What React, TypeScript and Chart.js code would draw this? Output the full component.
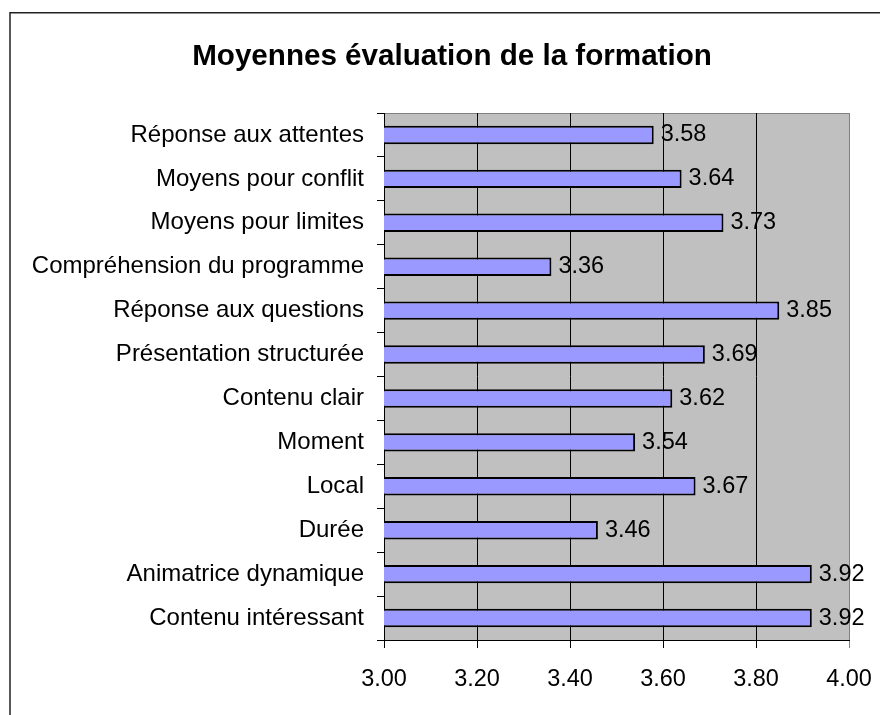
import React, { useEffect, useRef } from "react";
import { Chart, registerables } from "chart.js";

Chart.register(...registerables);

const TITLE = "Moyennes évaluation de la formation";
const categories = [
  "Réponse aux attentes",
  "Moyens pour conflit",
  "Moyens pour limites",
  "Compréhension du programme",
  "Réponse aux questions",
  "Présentation structurée",
  "Contenu clair",
  "Moment",
  "Local",
  "Durée",
  "Animatrice dynamique",
  "Contenu intéressant",
];
const values = [3.58, 3.64, 3.73, 3.36, 3.85, 3.69, 3.62, 3.54, 3.67, 3.46, 3.92, 3.92];
const xMin = 3.0;
const xMax = 4.0;
const xStep = 0.2;

const FONT = '"Liberation Sans", Arial, sans-serif';

export default function App() {
  const ref = useRef<HTMLCanvasElement | null>(null);

  useEffect(() => {
    const canvas = ref.current;
    if (!canvas) return;

    const decor = {
      id: "decor",
      beforeDraw(chart: any) {
        const { ctx, chartArea: a, width, height } = chart;
        ctx.save();
        ctx.fillStyle = "#ffffff";
        ctx.fillRect(0, 0, width, height);
        // outer chart border
        ctx.strokeStyle = "#222222";
        ctx.lineWidth = 1.5;
        ctx.strokeRect(10, 12.75, width + 20, height + 20);
        // plot area
        ctx.fillStyle = "#C0C0C0";
        ctx.fillRect(a.left, a.top, a.right - a.left, a.bottom - a.top);
        ctx.strokeStyle = "#808080";
        ctx.lineWidth = 1;
        ctx.beginPath();
        ctx.moveTo(a.left, Math.round(a.top) + 0.5);
        ctx.lineTo(Math.round(a.right) + 0.5, Math.round(a.top) + 0.5);
        ctx.lineTo(Math.round(a.right) + 0.5, a.bottom);
        ctx.stroke();
        // title
        ctx.fillStyle = "#000000";
        ctx.font = `bold 29.6px ${FONT}`;
        ctx.textAlign = "center";
        ctx.textBaseline = "alphabetic";
        ctx.fillText(TITLE, 452, 65);
        ctx.restore();
      },
      afterDatasetsDraw(chart: any) {
        const { ctx } = chart;
        const meta = chart.getDatasetMeta(0);
        ctx.save();
        ctx.fillStyle = "#000000";
        ctx.font = `23.5px ${FONT}`;
        ctx.textAlign = "left";
        ctx.textBaseline = "middle";
        meta.data.forEach((bar: any, i: number) => {
          ctx.fillText(values[i].toFixed(2), bar.x + 7, bar.y);
        });
        ctx.restore();
      },
    };

    const chart = new Chart(canvas, {
      type: "bar",
      data: {
        labels: categories,
        datasets: [
          {
            data: values,
            backgroundColor: "#9999FF",
            borderColor: "#000000",
            borderWidth: 2,
            borderSkipped: false,
            barPercentage: 0.42,
            categoryPercentage: 1.0,
          },
        ],
      },
      options: {
        indexAxis: "y",
        responsive: false,
        animation: false,
        devicePixelRatio: 1,
        layout: { padding: { top: 113, right: 31, left: 0, bottom: 0 } },
        plugins: {
          legend: { display: false },
          title: { display: false },
          tooltip: { enabled: false },
        },
        scales: {
          x: {
            type: "linear",
            min: xMin,
            max: xMax,
            afterFit(scale: any) {
              scale.height = 75;
              scale.paddingLeft = 0;
              scale.paddingRight = 0;
            },
            ticks: {
              stepSize: xStep,
              autoSkip: false,
              maxRotation: 0,
              color: "#000000",
              font: { family: FONT, size: 23.5 },
              padding: 17,
              callback: (v: any) => Number(v).toFixed(2),
            },
            grid: {
              color: (c: any) =>
                c.tick && Math.abs(c.tick.value - xMax) < 1e-9 ? "#808080" : "#000000",
              lineWidth: 1,
              tickLength: 8,
              drawTicks: true,
            },
            border: { display: true, color: "#000000", width: 1 },
          },
          y: {
            type: "category",
            offset: true,
            afterFit(scale: any) {
              scale.width = 384;
              scale.paddingTop = 0;
              scale.paddingBottom = 0;
            },
            ticks: {
              color: "#000000",
              font: { family: FONT, size: 24 },
              padding: 13,
              autoSkip: false,
            },
            grid: {
              offset: true,
              drawOnChartArea: false,
              drawTicks: true,
              tickLength: 7,
              color: "#000000",
            },
            border: { display: true, color: "#000000", width: 1 },
          },
        },
      },
      plugins: [decor],
    });

    return () => chart.destroy();
  }, []);

  return (
    <div style={{ position: "fixed", left: 0, top: 0, width: 880, height: 715, background: "#fff" }}>
      <canvas ref={ref} width={880} height={715} style={{ width: 880, height: 715, display: "block" }} />
    </div>
  );
}
